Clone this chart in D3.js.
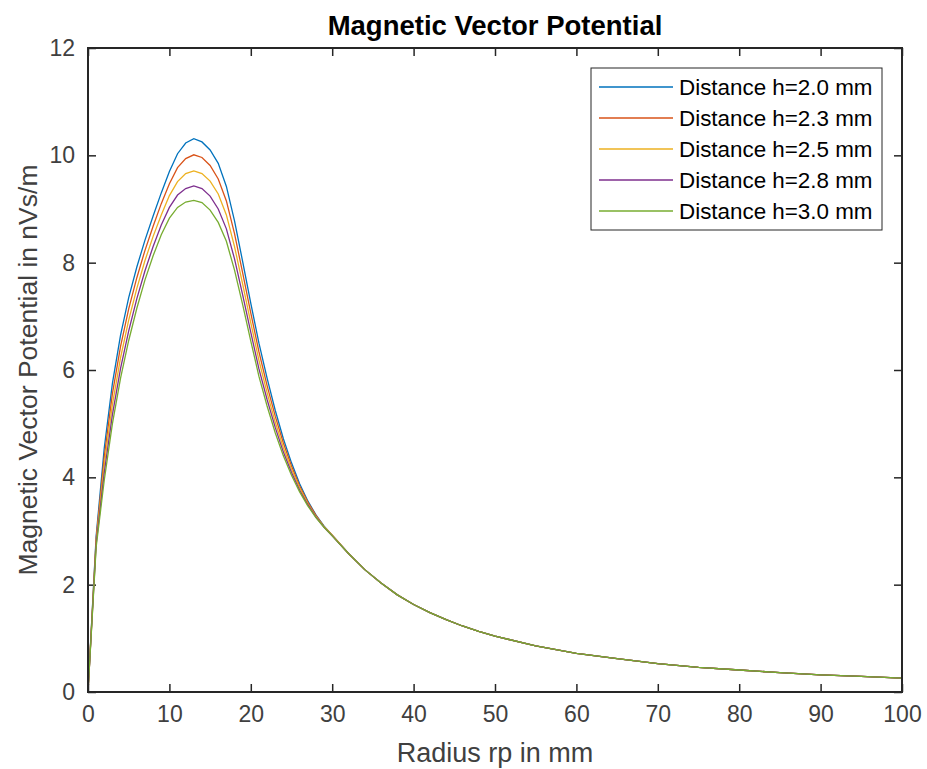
<!DOCTYPE html>
<html>
<head>
<meta charset="utf-8">
<script src="https://cdn.jsdelivr.net/npm/d3@7"></script>
<style>
    body { margin: 0; background: #fff; }
    svg text { font-family: "Liberation Sans", Arial, Helvetica, sans-serif; }
</style>
</head>
<body>
<svg id="chart" width="927" height="769"></svg>
<script>
// radius samples (mm)
const radius = [0, 1, 2, 3, 4, 5, 6, 7, 8, 9, 10, 11, 12, 13, 14, 15, 16, 17, 18, 19, 20,
    21, 22, 23, 24, 25, 26, 27, 28, 29, 30,
    32, 34, 36, 38, 40, 42, 44, 46, 48,
    50, 55, 60, 65, 70, 75, 80, 85, 90, 95, 100];

// far field, same for every distance
const tailPotential = [2.58, 2.28, 2.03, 1.81, 1.63, 1.48, 1.35, 1.23, 1.13,
    1.04, 0.86, 0.72, 0.62, 0.53, 0.46, 0.41, 0.36, 0.32, 0.29, 0.26];

// near field, r = 0..30 mm, in nVs/m
const potH20 = [0, 2.9, 4.55, 5.75, 6.65, 7.35, 7.92, 8.42, 8.87, 9.3, 9.7, 10.03, 10.23, 10.31, 10.25,
    10.1, 9.85, 9.42, 8.78, 8.02, 7.24, 6.5, 5.85, 5.25, 4.72, 4.27, 3.88, 3.56, 3.3, 3.09, 2.92];
const potH23 = [0, 2.85, 4.39, 5.56, 6.44, 7.14, 7.72, 8.23, 8.68, 9.1, 9.47, 9.77, 9.94, 10.01, 9.96,
    9.81, 9.56, 9.15, 8.54, 7.81, 7.06, 6.34, 5.71, 5.14, 4.64, 4.21, 3.84, 3.54, 3.29, 3.08, 2.92];
const potH25 = [0, 2.8, 4.24, 5.36, 6.23, 6.93, 7.52, 8.04, 8.49, 8.89, 9.25, 9.51, 9.66, 9.71, 9.66,
    9.52, 9.28, 8.89, 8.3, 7.6, 6.88, 6.18, 5.58, 5.03, 4.55, 4.15, 3.8, 3.51, 3.27, 3.08, 2.92];
const potH28 = [0, 2.75, 4.09, 5.17, 6.03, 6.73, 7.33, 7.85, 8.3, 8.7, 9.03, 9.26, 9.38, 9.43, 9.38,
    9.24, 9.0, 8.63, 8.07, 7.4, 6.7, 6.02, 5.45, 4.93, 4.47, 4.09, 3.76, 3.49, 3.26, 3.07, 2.91];
const potH30 = [0, 2.7, 3.95, 5.0, 5.85, 6.55, 7.15, 7.68, 8.13, 8.52, 8.83, 9.03, 9.13, 9.16, 9.12,
    8.98, 8.75, 8.4, 7.86, 7.22, 6.54, 5.88, 5.33, 4.83, 4.4, 4.04, 3.73, 3.47, 3.25, 3.07, 2.91];

const seriesNames = ["Distance h=2.0 mm", "Distance h=2.3 mm", "Distance h=2.5 mm",
    "Distance h=2.8 mm", "Distance h=3.0 mm"];
const seriesColors = ["#0072BD", "#D95319", "#EDB120", "#7E2F8E", "#77AC30"];
const xTicks = [0, 10, 20, 30, 40, 50, 60, 70, 80, 90, 100];
const yTicks = [0, 2, 4, 6, 8, 10, 12];

let margin = {top: 48, right: 25, bottom: 77, left: 88};
let width = 927 - margin.left - margin.right;
let height = 769 - margin.top - margin.bottom;

let svg = d3.select("#chart");
let g = svg.append("g")
    .attr("transform", `translate(${margin.left},${margin.top})`);

let x = d3.scaleLinear().domain([0, 100]).range([0, width]);
let y = d3.scaleLinear().domain([0, 12]).range([height, 0]);

let allSeries = [potH20, potH23, potH25, potH28, potH30].map((near, i) => ({
    name: seriesNames[i],
    color: seriesColors[i],
    values: near.concat(tailPotential).map((v, j) => ({r: radius[j], v: v}))
}));

// axes, ticks pointing inwards
function styleAxis(sel, showLabels) {
    sel.select(".domain").remove();
    sel.selectAll(".tick line").attr("stroke", "#262626").attr("stroke-width", 1.5);
    sel.selectAll(".tick text")
        .attr("fill", "#404040")
        .attr("font-size", "23px");
    if (!showLabels) sel.selectAll(".tick text").remove();
}

g.append("g")
    .attr("transform", `translate(0,${height})`)
    .call(d3.axisBottom(x).tickValues(xTicks).tickSizeInner(-8).tickPadding(14))
    .call(s => styleAxis(s, true));
g.append("g")
    .call(d3.axisTop(x).tickValues(xTicks).tickSizeInner(-8))
    .call(s => styleAxis(s, false));
g.append("g")
    .call(d3.axisLeft(y).tickValues(yTicks).tickSizeInner(-8).tickPadding(13))
    .call(s => styleAxis(s, true));
g.append("g")
    .attr("transform", `translate(${width},0)`)
    .call(d3.axisRight(y).tickValues(yTicks).tickSizeInner(-8))
    .call(s => styleAxis(s, false));

// curves
let line = d3.line()
    .x(d => x(d.r))
    .y(d => y(d.v));

g.selectAll(".curve")
    .data(allSeries)
    .enter().append("path")
    .attr("class", "curve")
    .attr("fill", "none")
    .attr("stroke", d => d.color)
    .attr("stroke-width", 1.3)
    .attr("d", d => line(d.values));

// box
g.append("rect")
    .attr("width", width)
    .attr("height", height)
    .attr("fill", "none")
    .attr("stroke", "#262626")
    .attr("stroke-width", 2);

// title and labels
svg.append("text")
    .text("Magnetic Vector Potential")
    .attr("x", margin.left + width / 2)
    .attr("y", 35)
    .attr("text-anchor", "middle")
    .attr("font-weight", "bold")
    .attr("font-size", "27.5px")
    .attr("fill", "#000");

svg.append("text")
    .text("Radius rp in mm")
    .attr("x", margin.left + width / 2)
    .attr("y", 762)
    .attr("text-anchor", "middle")
    .attr("font-size", "27px")
    .attr("fill", "#404040");

svg.append("text")
    .text("Magnetic Vector Potential in nVs/m")
    .attr("transform", `translate(37,${margin.top + height / 2}) rotate(-90)`)
    .attr("text-anchor", "middle")
    .attr("font-size", "26.5px")
    .attr("fill", "#404040");

// legend
let legend = svg.append("g")
    .attr("transform", "translate(591,68)");

legend.append("rect")
    .attr("width", 291)
    .attr("height", 162)
    .attr("fill", "#fff")
    .attr("stroke", "#262626")
    .attr("stroke-width", 1);

let items = legend.selectAll(".item")
    .data(allSeries)
    .enter().append("g")
    .attr("class", "item")
    .attr("transform", (d, i) => `translate(0,${19 + i * 31})`);

items.append("line")
    .attr("x1", 8)
    .attr("x2", 82)
    .attr("stroke", d => d.color)
    .attr("stroke-width", 1.3);

items.append("text")
    .attr("x", 88)
    .attr("y", 8)
    .attr("font-size", "22.4px")
    .attr("fill", "#000")
    .text(d => d.name);
</script>
</body>
</html>
